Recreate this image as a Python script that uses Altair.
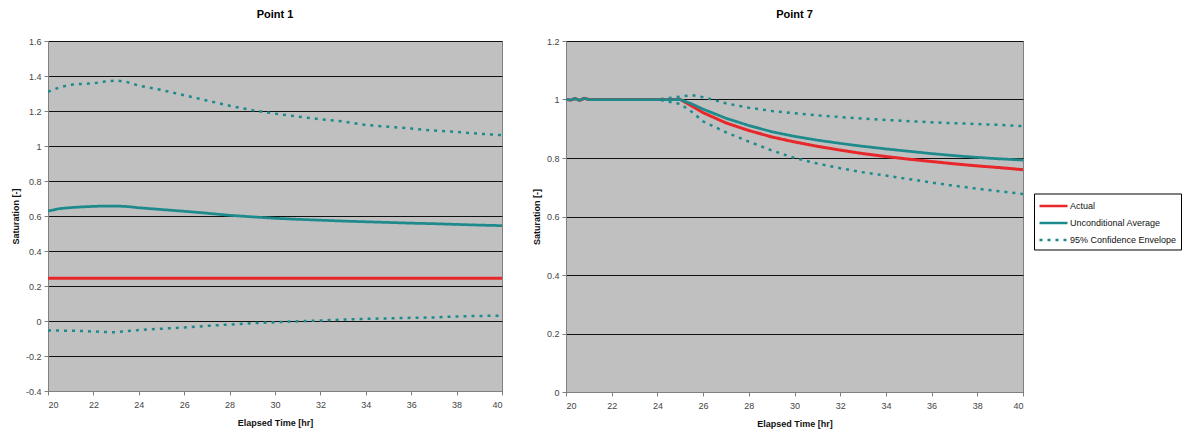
import altair as alt
import pandas as pd

# ---- Point 1 ----
p1_time = [20, 20.5, 21, 21.5, 22, 22.5, 23, 23.5, 24, 25, 26, 27, 28, 29, 30, 31, 32, 33, 34, 35, 36, 37, 38, 39, 40]
p1_actual = [0.245] * 25
p1_mean = [0.628, 0.642, 0.648, 0.652, 0.655, 0.657, 0.657, 0.654, 0.647, 0.637, 0.627, 0.616, 0.604, 0.595, 0.587, 0.581, 0.576, 0.571, 0.567, 0.563, 0.559, 0.556, 0.552, 0.548, 0.545]
p1_upper = [1.31, 1.335, 1.35, 1.355, 1.358, 1.368, 1.375, 1.365, 1.345, 1.32, 1.29, 1.26, 1.23, 1.205, 1.185, 1.168, 1.153, 1.14, 1.12, 1.11, 1.1, 1.088, 1.08, 1.07, 1.062]
p1_lower = [-0.054, -0.055, -0.055, -0.057, -0.06, -0.063, -0.064, -0.058, -0.052, -0.044, -0.037, -0.028, -0.02, -0.013, -0.007, -0.002, 0.003, 0.008, 0.012, 0.015, 0.018, 0.02, 0.026, 0.029, 0.031]

# ---- Point 7 ----
p7_time = [20, 20.2, 20.4, 20.6, 20.8, 21, 22, 23, 24, 25, 25.5, 26, 27, 28, 29, 30, 31, 32, 33, 34, 35, 36, 37, 38, 39, 40]
p7_actual = [1.0, 0.998, 1.003, 0.997, 1.004, 1.0, 1.0, 1.0, 1.0, 1.0, 0.978, 0.955, 0.92, 0.894, 0.872, 0.855, 0.84, 0.827, 0.815, 0.805, 0.796, 0.788, 0.78, 0.773, 0.767, 0.76]
p7_mean = [1.0, 0.998, 1.003, 0.997, 1.004, 1.0, 1.0, 1.0, 1.0, 1.0, 0.985, 0.967, 0.936, 0.911, 0.89, 0.874, 0.861, 0.85, 0.84, 0.831, 0.823, 0.815, 0.808, 0.802, 0.797, 0.793]
p7_upper = [1.0, 0.998, 1.003, 0.997, 1.004, 1.0, 1.0, 1.0, 1.0, 1.01, 1.015, 1.008, 0.987, 0.972, 0.961, 0.953, 0.946, 0.94, 0.935, 0.93, 0.926, 0.922, 0.919, 0.916, 0.913, 0.909]
p7_lower = [1.0, 0.998, 1.003, 0.997, 1.004, 1.0, 1.0, 1.0, 1.0, 0.985, 0.958, 0.925, 0.888, 0.856, 0.826, 0.8, 0.781, 0.765, 0.751, 0.74, 0.728, 0.716, 0.705, 0.695, 0.686, 0.677]

series_names = ["Actual", "Unconditional Average", "95% Confidence Envelope"]
series_colors = ["#E8272A", "#1E8A8C", "#1E8A8C"]
series_dash = [[1, 0], [1, 0], [3, 5]]
series_width = [3, 2.5, 2]


def long_frame(time, actual, mean, upper, lower):
    rows = []
    for name, line, vals in [
        ("95% Confidence Envelope", "upper", upper),
        ("95% Confidence Envelope", "lower", lower),
        ("Actual", "actual", actual),
        ("Unconditional Average", "mean", mean),
    ]:
        for t, v in zip(time, vals):
            rows.append({"time": t, "value": v, "series": name, "line": line})
    return pd.DataFrame(rows)


def panel(df, title, yvals, show_legend, w, h):
    legend = None
    if show_legend:
        legend = alt.Legend(
            title=None, orient="none", legendX=w + 11, legendY=h / 2 - 23,
            strokeColor="black", fillColor="white", padding=4,
            symbolType="M-1,0H3", symbolSize=196, symbolStrokeWidth=2.5,
            labelFontSize=9, labelFont="Liberation Sans", labelColor="#111111",
            labelOffset=15, rowPadding=3,
        )
    enc = dict(
        x=alt.X("time:Q", scale=alt.Scale(domain=[20, 40], nice=False, zero=False),
                axis=alt.Axis(values=list(range(20, 41, 2)), title="Elapsed Time [hr]", grid=False,
                              labelPadding=5, titlePadding=9)),
        y=alt.Y("value:Q", scale=alt.Scale(domain=[yvals[0], yvals[-1]], nice=False, zero=False),
                axis=alt.Axis(values=yvals, title="Saturation [-]", grid=True,
                              labelExpr="'' + datum.value")),
        color=alt.Color("series:N", scale=alt.Scale(domain=series_names, range=series_colors), legend=legend),
        strokeDash=alt.StrokeDash("series:N", scale=alt.Scale(domain=series_names, range=series_dash), legend=legend),
        strokeWidth=alt.StrokeWidth("series:N", scale=alt.Scale(domain=series_names, range=series_width), legend=None),
        detail="line:N",
    )
    base = alt.Chart(df)
    env = base.transform_filter("datum.series == '95% Confidence Envelope'").mark_line(clip=True).encode(**enc)
    act = base.transform_filter("datum.series == 'Actual'").mark_line(clip=True).encode(**enc)
    mean = base.transform_filter("datum.series == 'Unconditional Average'").mark_line(clip=True).encode(**enc)
    return alt.layer(env, act, mean).properties(
        width=w, height=h,
        title=alt.TitleParams(title, fontSize=11, font="Liberation Sans", fontWeight="bold", offset=17),
    )


df1 = long_frame(p1_time, p1_actual, p1_mean, p1_upper, p1_lower)
df7 = long_frame(p7_time, p7_actual, p7_mean, p7_upper, p7_lower)

left = panel(df1, "Point 1", [-0.4, -0.2, 0, 0.2, 0.4, 0.6, 0.8, 1, 1.2, 1.4, 1.6], False, 454, 350)
right = panel(df7, "Point 7", [0, 0.2, 0.4, 0.6, 0.8, 1, 1.2], True, 457, 351)

chart = alt.hconcat(left, right, spacing=28).resolve_legend(color="independent", strokeDash="independent").configure(
    padding={"left": 2, "top": 0, "right": 0, "bottom": 0},
    font="Liberation Sans",
).configure_view(
    fill="#C0C0C0", stroke="#808080", strokeWidth=1,
).configure_axis(
    labelFont="Liberation Sans", labelFontSize=9, labelColor="#444444",
    titleFont="Liberation Sans", titleFontSize=9, titleFontWeight="bold", titleColor="#111111",
    domainColor="#808080", tickColor="#808080", tickSize=4,
    gridColor="#111111", gridWidth=1, gridOpacity=1, labelPadding=3, titlePadding=5,
)

chart.save("out.html", embed_options={"renderer": "svg", "actions": False})
